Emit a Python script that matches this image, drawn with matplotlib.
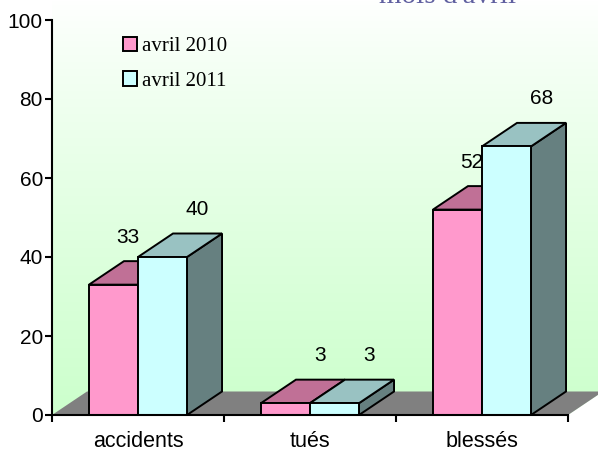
#!/usr/bin/env python3
import matplotlib

matplotlib.use("Agg")
import matplotlib.pyplot as plt
import numpy as np
from matplotlib.colors import to_rgb
from matplotlib.patches import Polygon, Rectangle


CATEGORIES = ["accidents", "tués", "blessés"]
SERIES_NAMES = ["avril 2010", "avril 2011"]
VALUES_2010 = [33, 3, 52]
VALUES_2011 = [40, 3, 68]
Y_TICKS = [0, 20, 40, 60, 80, 100]
TITLE = "mois d'avril"

# faces: front, top, side
PINK = ["#ff99cc", "#c07096", "#804066"]
CYAN = ["#ccffff", "#99c2c2", "#668080"]

DEPTH_X = 0.2035  # in category units
DEPTH_Y = 5.95  # in value units
BAR_W = 0.285
SANS = "Liberation Sans"
SERIF = "Liberation Serif"


def draw_bar(ax, x0, value, colors):
    x1 = x0 + BAR_W
    front = [(x0, 0), (x1, 0), (x1, value), (x0, value)]
    top = [(x0, value), (x1, value), (x1 + DEPTH_X, value + DEPTH_Y), (x0 + DEPTH_X, value + DEPTH_Y)]
    side = [(x1, 0), (x1 + DEPTH_X, DEPTH_Y), (x1 + DEPTH_X, value + DEPTH_Y), (x1, value)]
    for pts, color in [(side, colors[2]), (top, colors[1]), (front, colors[0])]:
        ax.add_patch(Polygon(pts, closed=True, facecolor=color, edgecolor="black",
                             linewidth=1.4, joinstyle="miter", zorder=3))


def main():
    fig = plt.figure(figsize=(5.98, 4.53), dpi=100)
    ax = fig.add_axes([52 / 598, 38 / 453, 546 / 598, 415 / 453])
    x_max = 546 / 172
    y_max = 415 / 3.95
    n = len(CATEGORIES)

    # walls with a vertical gradient, white at top to pale green at the floor
    top_c = np.array(to_rgb("#ffffff"))
    bot_c = np.array(to_rgb("#ccffcc"))
    t = np.linspace(0, 1, 256)[:, None, None] ** 0.85
    grad = top_c * (1 - t) + bot_c * t
    walls = Polygon([(0, 0), (n, 0), (n + DEPTH_X, DEPTH_Y), (n + DEPTH_X, y_max),
                     (0, y_max)], closed=True, facecolor="none", edgecolor="none")
    ax.add_patch(walls)
    im = ax.imshow(grad, extent=[0, n + DEPTH_X, 0, y_max], aspect="auto",
                   origin="upper", zorder=0)
    im.set_clip_path(walls)

    floor = [(0, 0), (n, 0), (n + DEPTH_X, DEPTH_Y), (DEPTH_X, DEPTH_Y)]
    ax.add_patch(Polygon(floor, closed=True, facecolor="#808080", edgecolor="none", zorder=1))

    for i in range(n):
        draw_bar(ax, i + 0.5 - BAR_W, VALUES_2010[i], PINK)
        draw_bar(ax, i + 0.5, VALUES_2011[i], CYAN)

    # value labels above the back edge of each top
    for i in range(n):
        for j, vals in enumerate([VALUES_2010, VALUES_2011]):
            v = vals[i]
            xc = i + 0.5 + (j - 0.5) * BAR_W + DEPTH_X
            if j == 0 and VALUES_2011[i] > v + 3:
                xc -= 0.12
            ax.text(xc, v + 12.0, str(v), ha="center", va="center",
                    fontsize=15, family=SANS, zorder=5)

    ax.set_xlim(0, x_max)
    ax.set_ylim(0, y_max)
    for side in ["top", "right"]:
        ax.spines[side].set_visible(False)
    ax.spines["left"].set_bounds(0, 100)
    ax.spines["bottom"].set_bounds(0, n)
    for side in ["left", "bottom"]:
        ax.spines[side].set_linewidth(1.5)
        ax.spines[side].set_zorder(6)

    ax.set_yticks(Y_TICKS)
    ax.set_yticklabels([str(v) for v in Y_TICKS], fontsize=15, family=SANS)
    ax.tick_params(axis="y", length=5, width=1.5, pad=1.5)

    ax.set_xticks(range(n + 1))
    ax.set_xticklabels([])
    ax.set_xticks([i + 0.5 for i in range(n)], minor=True)
    ax.set_xticklabels(CATEGORIES, minor=True, fontsize=15.5, family=SANS)
    ax.tick_params(axis="x", which="major", length=5, width=1.5)
    ax.tick_params(axis="x", which="minor", length=0, pad=11.5)

    handles = [Rectangle((0, 0), 1, 1, facecolor=PINK[0], edgecolor="black", linewidth=1.4),
               Rectangle((0, 0), 1, 1, facecolor=CYAN[0], edgecolor="black", linewidth=1.4)]
    fig.legend(handles, SERIES_NAMES, loc="upper left",
               bbox_to_anchor=(123 / 598, 1 - 37 / 453), frameon=False,
               prop={"family": SERIF, "size": 15}, handlelength=0.67,
               handleheight=0.67, handletextpad=0.25, labelspacing=0.72,
               borderpad=0, borderaxespad=0)

    fig.text(447.5 / 598, 1 - 3 / 453, TITLE, ha="center", va="baseline",
             fontsize=21, family=SERIF, color="#6060a0")

    fig.savefig("out.png", dpi=100)


if __name__ == "__main__":
    main()
